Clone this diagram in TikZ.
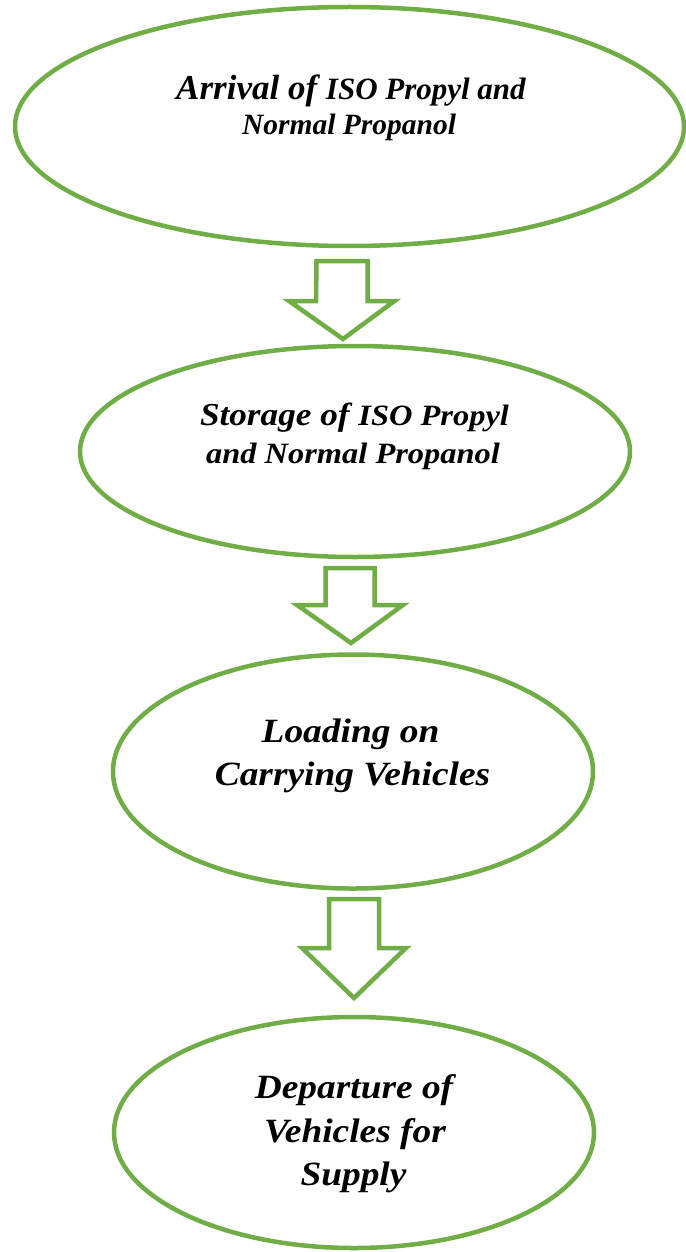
\documentclass[tikz,border=0pt]{standalone}
\usepackage{fontspec}
\setmainfont{Liberation Serif}
\newfontfamily\fB[FakeStretch=1.1]{Liberation Serif}
\usetikzlibrary{shapes.geometric}
\definecolor{flowgreen}{HTML}{70AD47}
\tikzset{
  stage/.style={draw=flowgreen, line width=4.5pt, ellipse, inner sep=0pt, outer sep=0pt},
  blockarrow/.style={draw=flowgreen, line width=4.5pt, line join=miter, fill=white},
  lbl/.style={anchor=base, inner sep=0pt, font=\bfseries\itshape}
}
\newcommand\fsz[1]{\fontsize{#1}{#1}\selectfont}
\begin{document}
\begin{tikzpicture}[x=1pt,y=-1pt]
\useasboundingbox (0,0) rectangle (685,1252);
% ellipses
\node[stage, minimum width=669pt, minimum height=239pt] (e1) at (349.5,126.5) {};
\node[stage, minimum width=550pt, minimum height=211pt] (e2) at (355,451.5) {};
\node[stage, minimum width=480pt, minimum height=234pt] (e3) at (353,771.5) {};
\node[stage, minimum width=480pt, minimum height=231pt] (e4) at (354,1132.5) {};
% texts
\node[lbl] (t1a) at (351,100) {{\fsz{35}Arrival of }{\fsz{31}ISO Propyl and}};
\node[lbl] (t1b) at (349,135) {\fsz{29.5}Normal Propanol};
\node[lbl] (t2a) at (354.5,425) {\fB{\fsz{32}Storage of }{\fsz{29.5}ISO Propyl}};
\node[lbl] (t2b) at (353,463) {\fB\fsz{29.5}and Normal Propanol};
\node[lbl] (t3a) at (350.5,742) {\fB\fsz{34}Loading on};
\node[lbl] (t3b) at (352.5,785) {\fB\fsz{34}Carrying Vehicles};
\node[lbl] (t4a) at (354,1098) {\fB\fsz{34}Departure of};
\node[lbl] (t4b) at (355,1142) {\fB\fsz{34}Vehicles for};
\node[lbl] (t4c) at (353.5,1185) {\fB\fsz{34}Supply};
% block arrows
\coordinate (a1) at (342,261);
\coordinate (a2) at (350,568);
\coordinate (a3) at (354,899);
\draw[blockarrow] (a1) ++(-25.5,0) -- ++(51,0) -- ++(0,40) -- ++(27,0) -- (343,339) -- (289,301) -- ++(27,0) -- cycle;
\draw[blockarrow] (a2) ++(-24.5,0) -- ++(49,0) -- ++(0,37) -- ++(28.5,0) -- (351,643) -- (297,605) -- ++(28.5,0) -- cycle;
\draw[blockarrow] (a3) ++(-25,0) -- ++(50,0) -- ++(0,49) -- ++(27,0) -- (354,998) -- (302,948) -- ++(27,0) -- cycle;
\end{tikzpicture}
\end{document}
